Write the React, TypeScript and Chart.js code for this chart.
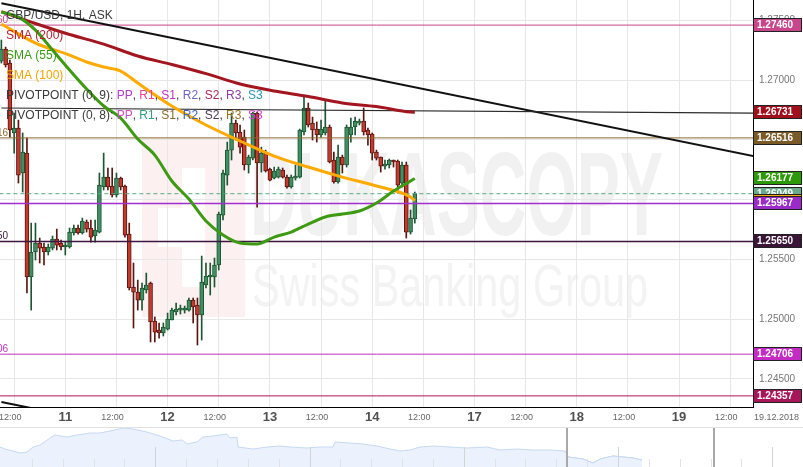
import React, { useEffect, useRef } from "react";
import { Chart, registerables } from "chart.js";

Chart.register(...registerables);

const FONT = '"Liberation Sans", Arial, sans-serif';

// Hours counted from 10 Dec 00:00 with the weekend removed (11 = 24, 12 = 48, 13 = 72, 14 = 96, 17 = 120 ...)
const FIRST_HOUR = 9; // first visible candle: 10 Dec 09:00
const X_MIN = 8.68;
const X_MAX = 185.34;
const Y_MIN = 1.24264;
const Y_MAX = 1.2767;

// GBP/USD hourly candles
const openP = [
  1.27159, 1.27259, 1.27142, 1.26557, 1.26598, 1.26222, 1.26389, 1.25352, 1.25561, 1.25636,
  1.25603, 1.25561, 1.25594, 1.2567, 1.25636, 1.25603, 1.25603, 1.2572, 1.25762, 1.2572,
  1.25812, 1.25762, 1.25695, 1.25728, 1.26105, 1.26188, 1.26113, 1.26038, 1.2618, 1.26113,
  1.25711, 1.25268, 1.25226, 1.25159, 1.25243, 1.25301, 1.24983, 1.24908, 1.24883, 1.24916,
  1.24992, 1.25059, 1.25075, 1.25075, 1.25075, 1.25159, 1.25117, 1.25034, 1.25285, 1.25352,
  1.25352, 1.25452, 1.2587, 1.26205, 1.26414, 1.2664, 1.26565, 1.26523, 1.26289, 1.26347,
  1.26724, 1.26306, 1.26389, 1.26255, 1.2618, 1.26188, 1.26247, 1.26188, 1.26105, 1.2618,
  1.26188, 1.26565, 1.26766, 1.2664, 1.2659, 1.2654, 1.26557, 1.26607, 1.26331, 1.26147,
  1.26356, 1.26289, 1.2654, 1.26607, 1.2664, 1.26657, 1.26582, 1.26548, 1.26398, 1.26356,
  1.2628, 1.26289, 1.26322, 1.26322, 1.26138, 1.26289, 1.25728, 1.25837,
];
const highP = [
  1.27335, 1.27276, 1.27167, 1.26724, 1.26665, 1.26557, 1.26515, 1.25803, 1.25803, 1.25678,
  1.25636, 1.25628, 1.25695, 1.25753, 1.25661, 1.25644, 1.25762, 1.25787, 1.25787, 1.25845,
  1.25829, 1.25829, 1.25829, 1.26222, 1.26389, 1.26264, 1.26264, 1.26222, 1.26188, 1.26121,
  1.25803, 1.25469, 1.25326, 1.25301, 1.25385, 1.2531, 1.25017, 1.24967, 1.24967, 1.2505,
  1.25092, 1.25134, 1.25117, 1.25109, 1.25176, 1.25176, 1.25176, 1.25527, 1.25469, 1.25469,
  1.25511, 1.25895, 1.26247, 1.26481, 1.26724, 1.26665, 1.26624, 1.26582, 1.26372, 1.26732,
  1.26732, 1.26439, 1.26414, 1.26264, 1.26272, 1.26272, 1.26264, 1.26205, 1.26205, 1.26289,
  1.2659, 1.26858, 1.26808, 1.2669, 1.26649, 1.26665, 1.26833, 1.26624, 1.26398, 1.26456,
  1.26372, 1.26624, 1.26682, 1.2669, 1.26674, 1.26766, 1.26598, 1.26557, 1.26414, 1.26356,
  1.26331, 1.26339, 1.26331, 1.26331, 1.26314, 1.26314, 1.25912, 1.26063,
];
const lowP = [
  1.27142, 1.27109, 1.26523, 1.26389, 1.26138, 1.26063, 1.25218, 1.25075, 1.25494, 1.25469,
  1.25452, 1.25536, 1.25578, 1.25578, 1.25578, 1.25536, 1.25594, 1.25703, 1.25711, 1.25711,
  1.25728, 1.25644, 1.25644, 1.2572, 1.2608, 1.2608, 1.26021, 1.26021, 1.2608, 1.25686,
  1.25243, 1.24925, 1.25075, 1.25075, 1.25218, 1.24808, 1.24808, 1.24841, 1.24858, 1.24908,
  1.24992, 1.25034, 1.25042, 1.2505, 1.25067, 1.24967, 1.24783, 1.24824, 1.2526, 1.25201,
  1.25268, 1.2541, 1.25829, 1.26121, 1.26331, 1.26498, 1.26389, 1.26247, 1.26222, 1.26331,
  1.25937, 1.2623, 1.2623, 1.26155, 1.26172, 1.2618, 1.2618, 1.26096, 1.26096, 1.26163,
  1.2618, 1.2654, 1.26607, 1.26498, 1.26481, 1.26523, 1.2654, 1.26306, 1.26138, 1.26138,
  1.26222, 1.26272, 1.26481, 1.2654, 1.26624, 1.2654, 1.26456, 1.26331, 1.26331, 1.2623,
  1.26255, 1.26264, 1.26272, 1.26054, 1.26105, 1.25678, 1.25711, 1.25803,
];
const closeP = [
  1.27259, 1.27126, 1.26582, 1.26598, 1.26205, 1.26398, 1.25352, 1.25561, 1.25636, 1.25594,
  1.25561, 1.25603, 1.2567, 1.25619, 1.25603, 1.25619, 1.25728, 1.25762, 1.2572, 1.2582,
  1.25753, 1.25686, 1.25745, 1.26121, 1.26188, 1.26105, 1.26038, 1.2618, 1.26105, 1.25703,
  1.2526, 1.25226, 1.25159, 1.2526, 1.25285, 1.24975, 1.24891, 1.24883, 1.24933, 1.25,
  1.25075, 1.25084, 1.25092, 1.25092, 1.25159, 1.25101, 1.25034, 1.2531, 1.2536, 1.25368,
  1.25452, 1.25879, 1.26222, 1.26414, 1.2664, 1.26557, 1.26439, 1.26289, 1.26356, 1.26724,
  1.26306, 1.26389, 1.26239, 1.26163, 1.26239, 1.26255, 1.26188, 1.26105, 1.26188, 1.26197,
  1.26582, 1.26766, 1.26624, 1.26582, 1.2654, 1.2659, 1.26607, 1.26314, 1.26147, 1.26356,
  1.26289, 1.26607, 1.26607, 1.26657, 1.26657, 1.26565, 1.2654, 1.26389, 1.26347, 1.2628,
  1.26297, 1.26331, 1.26314, 1.26121, 1.26289, 1.25728, 1.25845, 1.26049,
];

// Moving averages (hour, value)
const sma200Hours = [9, 17, 25, 33, 41, 49, 57, 65, 73, 81, 89, 97, 105, 106];
const sma200 = [1.27573, 1.27473, 1.27381, 1.27301, 1.27201, 1.2713, 1.27054, 1.26967, 1.26908, 1.26862, 1.26808, 1.26778, 1.26732, 1.26731];
const sma100Hours = [9, 17, 25, 29, 33, 37, 41, 49, 57, 65, 73, 81, 89, 97, 105, 106];
const sma100 = [1.27469, 1.2731, 1.27209, 1.27151, 1.27109, 1.27075, 1.26975, 1.26783, 1.26624, 1.2649, 1.26364, 1.26272, 1.26188, 1.26113, 1.26021, 1.2599];
const sma55Hours = [9, 13, 17, 21, 25, 29, 33, 37, 41, 45, 49, 53, 57, 61, 65, 69, 73, 77, 81, 85, 89, 93, 97, 101, 105, 106];
const sma55 = [
  1.27569, 1.27527, 1.27418, 1.27251, 1.27084, 1.26925, 1.26783, 1.26682, 1.26506, 1.26372,
  1.26155, 1.26004, 1.2582, 1.25703, 1.25636, 1.25628, 1.25686, 1.25728, 1.25795, 1.25854,
  1.25879, 1.25904, 1.25971, 1.26071, 1.26155, 1.26177,
];

// Trend lines (hour, price)
const trendUpperHours = [9, 190];
const trendUpper = [1.27642, 1.2633];
const trendLowerHours = [9, 20];
const trendLower = [1.24306, 1.24226];
const trendFlatHours = [9, 190];
const trendFlat = [1.26766, 1.26723];

// Pivot levels
const pivotLevels = [1.2746, 1.26516, 1.25967, 1.2565, 1.24706, 1.24357];
const pivotColors = ["#c8468c", "#8a6a2c", "#a22ed0", "#3c1640", "#c22fc2", "#b0165a"];
const pivotWidths = [1, 1, 1.5, 1.5, 1, 1];
const currentPrice = 1.26049;

// Axis tags on the right
const tagValues = [1.2746, 1.26731, 1.26516, 1.26177, 1.26049, 1.2599, 1.25967, 1.2565, 1.24706, 1.24357];
const tagColors = ["#c8468c", "#a00f1c", "#7a5a26", "#2c9a08", "#6aa98a", "#ffa500", "#9b2bc9", "#3b1538", "#c42ac4", "#a8165a"];

// Left-edge (clipped) level labels
const leftLabelValues = [1.2746, 1.26516, 1.2565, 1.24706];
const leftLabelColors = ["#c8468c", "#8a6a2c", "#3c1640", "#c22fc2"];

// Axis ticks
const tickHours = [12, 24, 36, 48, 60, 72, 84, 96, 108, 120, 132, 144, 156, 168, 180];
const tickLabels = ["12:00", "11", "12:00", "12", "12:00", "13", "12:00", "14", "12:00", "17", "12:00", "18", "12:00", "19", "12:00"];
const priceTicks = [1.245, 1.25, 1.255, 1.26, 1.265, 1.27, 1.275];
const dateLabel = "19.12.2018";

// Legend
const pivotNames = ["PP", "R1", "S1", "R2", "S2", "R3", "S3"];
const pivot9Colors = ["#b03cd2", "#e0449c", "#c430c4", "#6a66c8", "#b0285e", "#8e3aa6", "#2a98b8"];
const pivot8Colors = ["#cc4cc4", "#30a07c", "#8a6a30", "#3c64b4", "#4e3a56", "#9a7224", "#d23cd2"];

// Navigator overview (slot, level)
const navSlots = [
  0, 5, 13, 20, 27, 33, 40, 50, 55, 67, 77, 90, 100, 110, 123, 133, 147, 160, 173, 182,
  187, 197, 203, 213, 227, 230, 237, 238, 253, 267, 280, 290, 307, 320, 333, 335, 350, 363, 377, 390,
  400, 410, 420, 433, 450, 467, 487, 500, 517, 533, 550, 565, 568, 583, 593, 600, 613, 623, 633, 642,
];
const navLevels = [
  1.256, 1.2544, 1.2528, 1.2512, 1.252, 1.256, 1.2576, 1.2632, 1.2656, 1.264, 1.2656, 1.2672, 1.2672, 1.2688, 1.2712, 1.2704, 1.268, 1.2648, 1.2608, 1.2616,
  1.2584, 1.26, 1.264, 1.2648, 1.2664, 1.2632, 1.264, 1.256, 1.2544, 1.256, 1.2568, 1.256, 1.2552, 1.256, 1.256, 1.26, 1.2592, 1.2584, 1.2568, 1.2544,
  1.2528, 1.2536, 1.256, 1.2568, 1.256, 1.2552, 1.256, 1.2536, 1.2544, 1.2536, 1.2536, 1.2528, 1.248, 1.2464, 1.2432, 1.2464, 1.2488, 1.248, 1.2472, 1.2456,
];
const NAV_SELECT_FROM = 567;
const NAV_SELECT_TO = 714;

const xy = (xs: number[], ys: number[]) => xs.map((x, i) => ({ x, y: ys[i] }));
const hLine = (v: number) => [
  { x: X_MIN - 10, y: v },
  { x: X_MAX + 10, y: v },
];

const decorPlugin = {
  id: "decor",
  beforeDraw(chart: any) {
    const { ctx, width, height } = chart;
    ctx.save();
    ctx.fillStyle = "#ffffff";
    ctx.fillRect(0, 0, width, height);
    // watermark logo
    ctx.fillStyle = "#fdf0f0";
    ctx.fillRect(142, 138, 103, 179);
    ctx.fillStyle = "#ffffff";
    ctx.fillRect(182, 168, 23, 119);
    ctx.fillRect(158, 208, 24, 39);
    // watermark text
    ctx.textAlign = "left";
    ctx.textBaseline = "alphabetic";
    ctx.font = `bold 118px ${FONT}`;
    let w = ctx.measureText("DUKASCOPY").width;
    ctx.save();
    ctx.translate(250, 235);
    ctx.scale(413 / w, 1);
    ctx.fillStyle = "#f1f1f1";
    ctx.fillText("DUKASCOPY", 0, 0);
    ctx.restore();
    ctx.font = `60px ${FONT}`;
    w = ctx.measureText("Swiss Banking Group").width;
    ctx.save();
    ctx.translate(252, 306);
    ctx.scale(396 / w, 1);
    ctx.fillStyle = "#f3f3f3";
    ctx.fillText("Swiss Banking Group", 0, 0);
    ctx.restore();
    ctx.restore();
  },
  afterDatasetsDraw(chart: any) {
    const { ctx } = chart;
    const yS = chart.scales.y;
    ctx.save();
    // legend
    ctx.textBaseline = "middle";
    ctx.textAlign = "left";
    ctx.font = `12px ${FONT}`;
    const gray = "#3a3a3a";
    const pivRow = (title: string, cols: string[]) => {
      const row: [string, string][] = [[title, gray]];
      pivotNames.forEach((n, k) => {
        row.push([n, cols[k]]);
        if (k < pivotNames.length - 1) row.push([", ", gray]);
      });
      return row;
    };
    const rows: [string, string][][] = [
      [["GBP/USD, 1H, ASK", gray]],
      [["SMA (200)", "#b52230"]],
      [["SMA (55)", "#3a9a14"]],
      [["SMA (100)", "#f5a300"]],
      pivRow("PIVOTPOINT (0, 9): ", pivot9Colors),
      pivRow("PIVOTPOINT (0, 8): ", pivot8Colors),
    ];
    rows.forEach((row, r) => {
      let x = 6;
      const y = 16 + r * 20;
      row.forEach(([t, c]) => {
        ctx.fillStyle = c;
        ctx.fillText(t, x, y);
        x += ctx.measureText(t).width;
      });
    });
    // clipped level labels at the left edge
    ctx.font = `10px ${FONT}`;
    ctx.textAlign = "right";
    leftLabelValues.forEach((v, k) => {
      ctx.fillStyle = leftLabelColors[k];
      ctx.fillText(v.toFixed(5), 8, yS.getPixelForValue(v) - 5);
    });
    ctx.restore();
  },
  afterDraw(chart: any) {
    const { ctx, chartArea } = chart;
    const xS = chart.scales.x;
    const yS = chart.scales.y;
    ctx.save();
    // time axis labels
    const ly = chartArea.bottom + 10.5;
    ctx.textBaseline = "middle";
    ctx.textAlign = "center";
    tickHours.forEach((h, k) => {
      const px = xS.getPixelForValue(h);
      const lab = tickLabels[k];
      if (lab.includes(":")) {
        ctx.font = `9px ${FONT}`;
        ctx.fillStyle = "#666";
        ctx.fillText(lab, px - 4, ly);
      } else {
        ctx.font = `bold 13px ${FONT}`;
        ctx.fillStyle = "#505050";
        ctx.fillText(lab, px, ly);
      }
    });
    ctx.textAlign = "left";
    ctx.font = `9px ${FONT}`;
    ctx.fillStyle = "#666";
    ctx.fillText(dateLabel, chartArea.right + 1, ly);
    // price tags
    ctx.font = `bold 10px ${FONT}`;
    tagValues.forEach((v, k) => {
      const cy = Math.round(yS.getPixelForValue(v));
      const x0 = chartArea.right;
      ctx.fillStyle = tagColors[k];
      ctx.fillRect(x0, cy - 6, 49, 12);
      ctx.strokeStyle = "#222";
      ctx.lineWidth = 1;
      ctx.strokeRect(x0 + 0.5, cy - 6.5, 48, 13);
      ctx.fillStyle = "#fff";
      ctx.fillText(v.toFixed(5), x0 + 4, cy + 0.5);
    });
    ctx.restore();
  },
};

const navPlugin = {
  id: "navDecor",
  afterDatasetsDraw(chart: any) {
    const { ctx, width, height } = chart;
    const xS = chart.scales.x;
    ctx.save();
    ctx.strokeStyle = "#e2e2e2";
    ctx.lineWidth = 1;
    ctx.beginPath();
    ctx.moveTo(0, 0.5);
    ctx.lineTo(width, 0.5);
    ctx.stroke();
    for (let k = 1; k * 30.85 < width; k++) {
      const px = Math.round(xS.getPixelForValue(1 + k * 30.85)) + 0.5;
      const tall = k % 5 === 0;
      ctx.strokeStyle = tall ? "#d4d4d4" : "#e2e2e2";
      ctx.beginPath();
      ctx.moveTo(px, tall ? 20 : 32);
      ctx.lineTo(px, height);
      ctx.stroke();
    }
    ctx.strokeStyle = "#a9a9a9";
    ctx.lineWidth = 2;
    [NAV_SELECT_FROM, NAV_SELECT_TO].forEach((s) => {
      const px = xS.getPixelForValue(s);
      ctx.beginPath();
      ctx.moveTo(px, 1);
      ctx.lineTo(px, height);
      ctx.stroke();
    });
    ctx.restore();
  },
};

export default function App() {
  const mainRef = useRef<HTMLCanvasElement>(null);
  const navRef = useRef<HTMLCanvasElement>(null);

  useEffect(() => {
    const hours = openP.map((_, i) => FIRST_HOUR + i);
    const up = closeP.map((c, i) => c >= openP[i]);
    const bodyFill = up.map((u) => (u ? "#3f8f62" : "#c43a2c"));
    const bodyEdge = up.map((u) => (u ? "#1d5632" : "#5c1612"));
    const lineBase = { type: "line" as const, pointRadius: 0, fill: false, clip: 0 };

    const main = new Chart(mainRef.current as HTMLCanvasElement, {
      type: "bar",
      data: {
        datasets: [
          {
            type: "bar",
            data: hours.map((h, i) => ({ x: h, y: [lowP[i], highP[i]] })) as any,
            backgroundColor: bodyEdge,
            barThickness: 1,
            grouped: false,
            order: 50,
          } as any,
          {
            type: "bar",
            data: hours.map((h, i) => ({ x: h, y: [openP[i], closeP[i]] })) as any,
            backgroundColor: bodyFill,
            borderColor: bodyEdge,
            borderWidth: 1,
            borderSkipped: false,
            barThickness: 4,
            minBarLength: 2,
            grouped: false,
            order: 40,
          } as any,
          ...pivotLevels.map((v, k) => ({
            ...lineBase,
            data: hLine(v),
            borderColor: pivotColors[k],
            borderWidth: pivotWidths[k],
            order: 30,
          })),
          { ...lineBase, data: hLine(currentPrice), borderColor: "#5aa882", borderWidth: 1, borderDash: [4, 3], order: 30 },
          { ...lineBase, data: xy(trendFlatHours, trendFlat), borderColor: "#2a2a2a", borderWidth: 1.2, order: 20 },
          { ...lineBase, data: xy(trendUpperHours, trendUpper), borderColor: "#111", borderWidth: 2, order: 20 },
          { ...lineBase, data: xy(trendLowerHours, trendLower), borderColor: "#111", borderWidth: 2, order: 20 },
          { ...lineBase, data: xy(sma200Hours, sma200), borderColor: "#a3161f", borderWidth: 3, cubicInterpolationMode: "monotone", order: 12 },
          { ...lineBase, data: xy(sma100Hours, sma100), borderColor: "#ffaa00", borderWidth: 3, cubicInterpolationMode: "monotone", order: 11 },
          { ...lineBase, data: xy(sma55Hours, sma55), borderColor: "#3d9a12", borderWidth: 3, cubicInterpolationMode: "monotone", order: 10 },
        ] as any,
      },
      options: {
        responsive: false,
        animation: false,
        events: [],
        layout: { padding: 0 },
        plugins: { legend: { display: false }, tooltip: { enabled: false } },
        scales: {
          x: {
            type: "linear",
            min: X_MIN,
            max: X_MAX,
            offset: false,
            afterBuildTicks: (s: any) => {
              s.ticks = tickHours.map((v) => ({ value: v }));
            },
            afterFit: (s: any) => {
              s.height = 20;
              s.paddingLeft = 0;
              s.paddingRight = 0;
            },
            ticks: { display: false },
            grid: { color: "#e7e7e7", lineWidth: 1, drawTicks: false, offset: false },
            border: { display: true, color: "#000", width: 1 },
          },
          y: {
            type: "linear",
            position: "right",
            min: Y_MIN,
            max: Y_MAX,
            afterBuildTicks: (s: any) => {
              s.ticks = priceTicks.map((v) => ({ value: v }));
            },
            afterFit: (s: any) => {
              s.width = 50;
              s.paddingTop = 0;
              s.paddingBottom = 0;
            },
            ticks: {
              callback: (v: any) => Number(v).toFixed(5),
              color: "#777",
              font: { family: FONT, size: 10 },
              padding: 6,
            },
            grid: { color: "#e7e7e7", drawTicks: false },
            border: { display: true, color: "#000", width: 1 },
          },
        },
      } as any,
      plugins: [decorPlugin],
    });

    const navPts = xy(navSlots, navLevels);
    const nav = new Chart(navRef.current as HTMLCanvasElement, {
      type: "line",
      data: {
        datasets: [
          {
            data: navPts,
            borderColor: "#c6d9f4",
            borderWidth: 1,
            backgroundColor: "#ebf2fd",
            fill: "start",
            pointRadius: 0,
            tension: 0,
          },
          {
            data: navPts.filter((p) => p.x >= 565),
            borderColor: "#b9cfef",
            borderWidth: 1,
            backgroundColor: "#d9e6f8",
            fill: "start",
            pointRadius: 0,
            tension: 0,
          },
        ] as any,
      },
      options: {
        responsive: false,
        animation: false,
        events: [],
        layout: { padding: 0 },
        plugins: { legend: { display: false }, tooltip: { enabled: false } },
        scales: {
          x: { type: "linear", display: false, min: 0, max: 803 },
          y: { display: false, min: 1.24, max: 1.272 },
        },
      } as any,
      plugins: [navPlugin],
    });

    return () => {
      main.destroy();
      nav.destroy();
    };
  }, []);

  return (
    <div style={{ position: "absolute", left: 0, top: 0, width: 803, height: 467, background: "#fff", overflow: "hidden" }}>
      <canvas ref={mainRef} width={803} height={427} style={{ position: "absolute", left: 0, top: 0, display: "block" }} />
      <canvas ref={navRef} width={803} height={40} style={{ position: "absolute", left: 0, top: 427, display: "block" }} />
    </div>
  );
}
